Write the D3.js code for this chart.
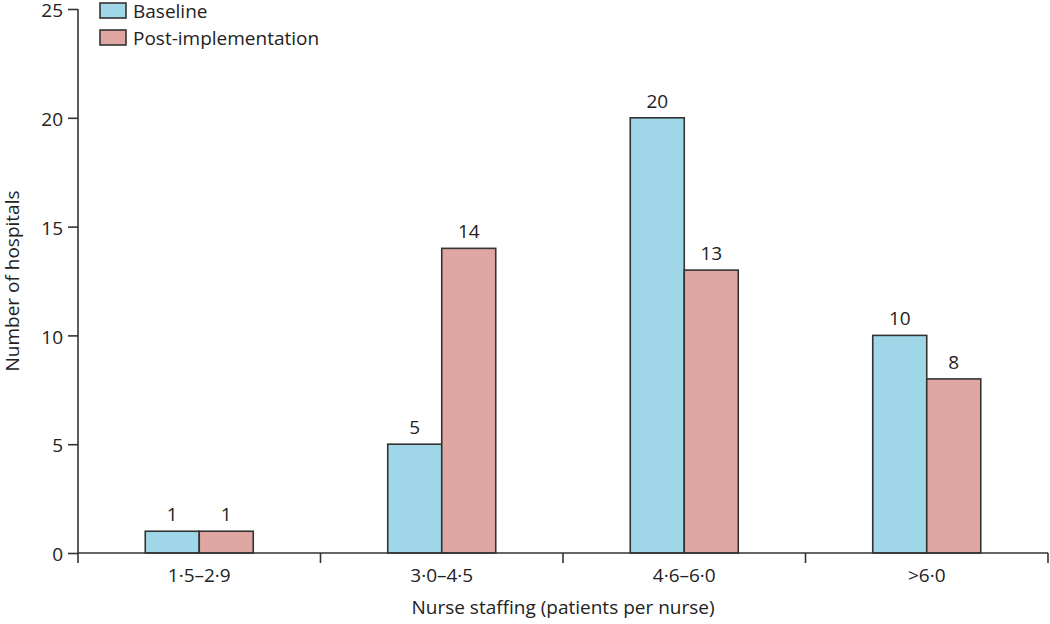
<!DOCTYPE html>
<html><head><meta charset="utf-8">
<script src="https://cdn.jsdelivr.net/npm/d3@7"></script>
<style>body{margin:0;background:#fff}svg{display:block}text{font-family:"Open Sans","Noto Sans",sans-serif;fill:#222}</style>
</head><body><svg id="c" width="1050" height="624"></svg>
<script>
const categories = ["1·5–2·9","3·0–4·5","4·6–6·0",">6·0"];
const seriesNames = ["Baseline","Post-implementation"];
const baseline = [1,5,20,10];
const postImpl = [1,14,13,8];
const yTicks = [0,5,10,15,20,25];
const colors = ["#9fd7e8","#e0a7a2"];

const svg = d3.select("#c");
const L=78, R=1048, T=9, B=553;
const x0 = d3.scaleBand().domain(categories).range([L,R]).padding(0);
const barW = 54;
const x1 = d3.scaleBand().domain(seriesNames).range([x0.bandwidth()/2-barW, x0.bandwidth()/2+barW]);
const y = d3.scaleLinear().domain([0,25]).range([B,T]);

const data = categories.map((c,i)=>({cat:c, vals:[{s:seriesNames[0],v:baseline[i]},{s:seriesNames[1],v:postImpl[i]}]}));

// bars
const g = svg.append("g");
data.forEach(d=>{
  d.vals.forEach((e,j)=>{
    g.append("rect").attr("x",x0(d.cat)+x1(e.s)).attr("y",y(e.v))
     .attr("width",x1.bandwidth()).attr("height",y(0)-y(e.v))
     .attr("fill",colors[j]).attr("stroke","#333").attr("stroke-width",1.6);
    g.append("text").attr("x",x0(d.cat)+x1(e.s)+x1.bandwidth()/2).attr("y",y(e.v)-10)
     .attr("text-anchor","middle").attr("font-size",19).text(e.v);
  });
});

// y axis
const yAx = svg.append("g").attr("transform",`translate(${L},0)`)
  .call(d3.axisLeft(y).tickValues(yTicks).tickSize(10).tickPadding(5));
yAx.select(".domain").remove();
yAx.selectAll("line").attr("stroke","#333").attr("stroke-width",1.6);
yAx.selectAll("text").attr("font-size",19).attr("fill","#222").attr("dy","0.4em").style("font-family",'"Open Sans","Noto Sans",sans-serif');
svg.append("line").attr("x1",L).attr("x2",L).attr("y1",y(25)).attr("y2",B+10).attr("stroke","#333").attr("stroke-width",1.6);

// x axis
svg.append("line").attr("x1",L).attr("x2",R).attr("y1",B).attr("y2",B).attr("stroke","#333").attr("stroke-width",1.6);
const bounds = categories.map(c=>x0(c)).concat([R]);
bounds.slice(1).forEach(b=>{
  svg.append("line").attr("x1",b).attr("x2",b).attr("y1",B).attr("y2",B+10).attr("stroke","#333").attr("stroke-width",1.6);
});
categories.forEach(c=>{
  svg.append("text").attr("x",x0(c)+x0.bandwidth()/2).attr("y",B+29)
    .attr("text-anchor","middle").attr("font-size",19).text(c);
});

// axis titles
svg.append("text").attr("x",(L+R)/2).attr("y",614).attr("text-anchor","middle").attr("font-size",19)
  .text("Nurse staffing (patients per nurse)");
svg.append("text").attr("transform",`translate(19,${(T+B)/2}) rotate(-90)`).attr("text-anchor","middle").attr("font-size",19)
  .text("Number of hospitals");

// legend
seriesNames.forEach((s,i)=>{
  const ly = 3 + i*27;
  svg.append("rect").attr("x",100).attr("y",ly).attr("width",26).attr("height",15)
    .attr("fill",colors[i]).attr("stroke","#333").attr("stroke-width",1.6);
  svg.append("text").attr("x",133).attr("y",ly+15).attr("font-size",19).text(s);
});
</script></body></html>
